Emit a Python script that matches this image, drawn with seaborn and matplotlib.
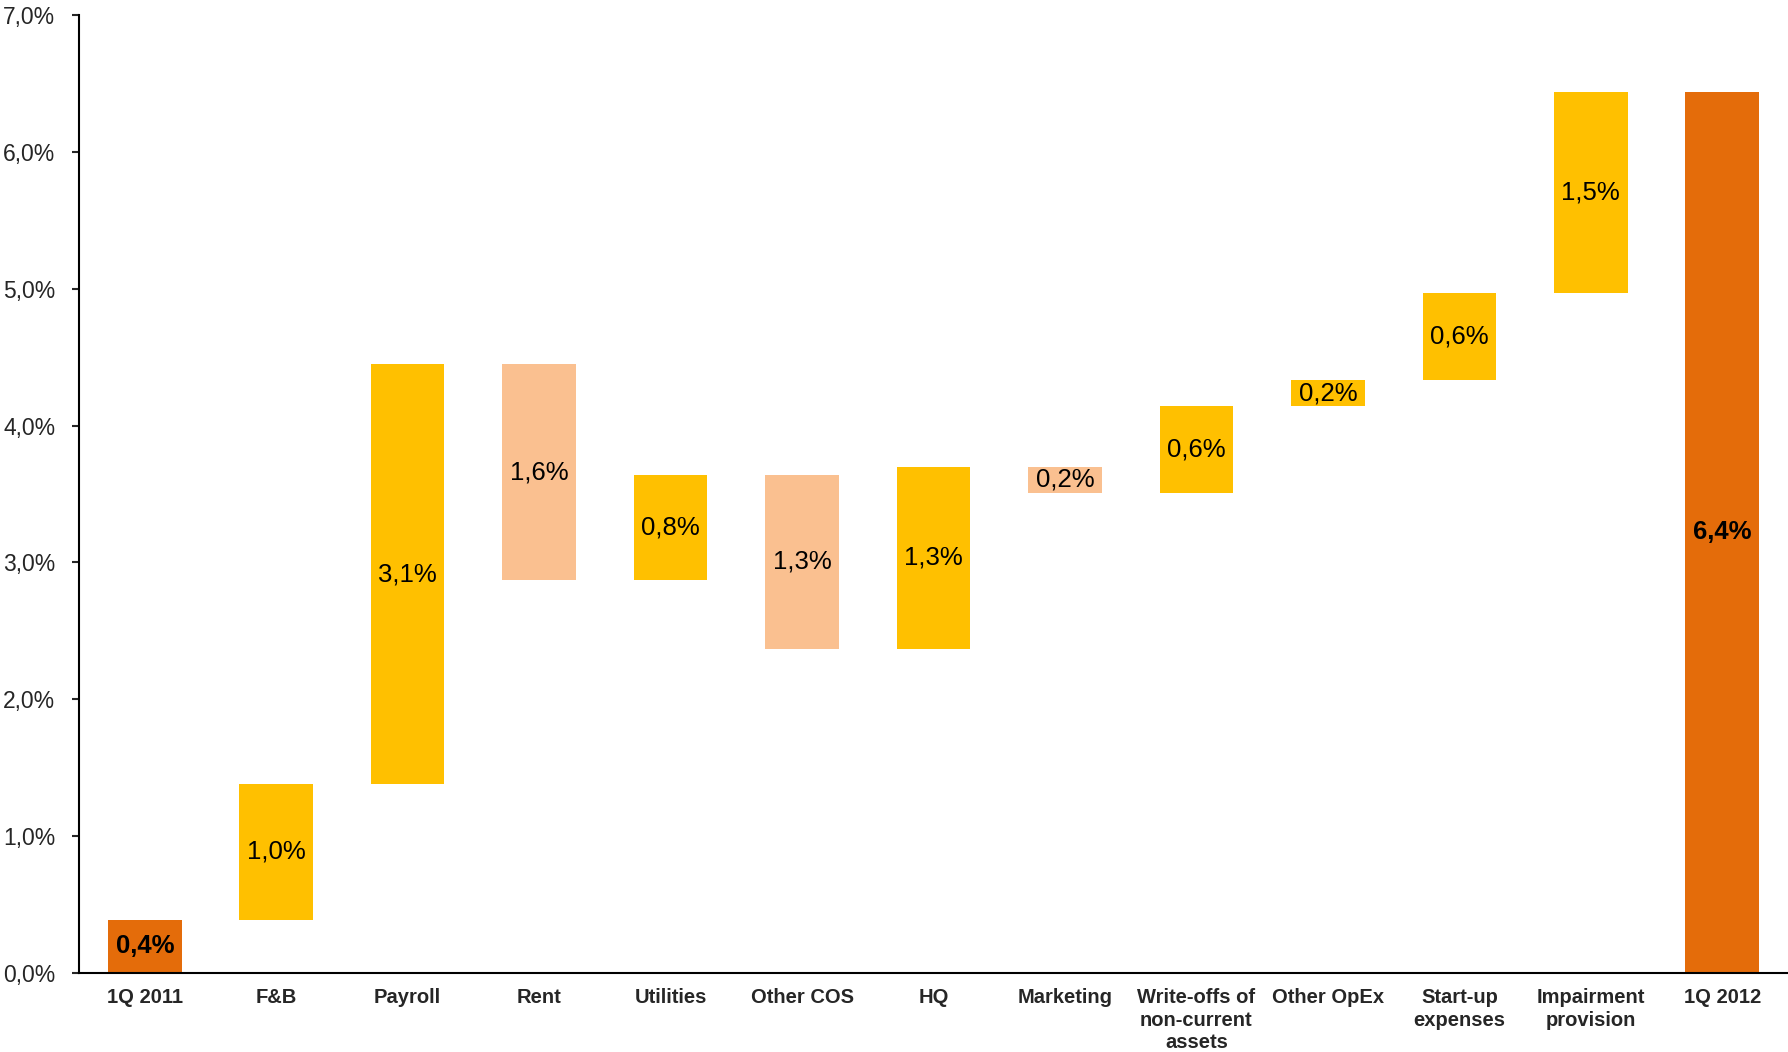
import numpy as np
import pandas as pd
import matplotlib
matplotlib.use("Agg")
import matplotlib.pyplot as plt
import seaborn as sns

categories = ["1Q 2011", "F&B", "Payroll", "Rent", "Utilities", "Other COS", "HQ",
              "Marketing", "Write-offs of\nnon-current\nassets", "Other OpEx",
              "Start-up\nexpenses", "Impairment\nprovision", "1Q 2012"]
start_value = 0.39
deltas = [0.99, 3.07, -1.58, 0.77, -1.27, 1.33, -0.19, 0.63, 0.19, 0.64, 1.47]
end_value = 6.44
labels = ["0,4%", "1,0%", "3,1%", "1,6%", "0,8%", "1,3%", "1,3%", "0,2%", "0,6%",
          "0,2%", "0,6%", "1,5%", "6,4%"]
kinds = ["total"] + ["up" if d > 0 else "down" for d in deltas] + ["total"]

colors = {"total": "#E46C0A", "up": "#FFC000", "down": "#FAC090"}

# Build waterfall bottoms/heights
bottoms, heights = [0.0], [start_value]
level = start_value
for d in deltas:
    if d >= 0:
        bottoms.append(level)
        heights.append(d)
    else:
        bottoms.append(level + d)
        heights.append(-d)
    level += d
bottoms.append(0.0)
heights.append(end_value)

df = pd.DataFrame({"cat": categories, "height": heights, "bottom": bottoms, "kind": kinds})

sns.set_style("white")
plt.rcParams["font.family"] = ["Liberation Sans", "DejaVu Sans"]

fig = plt.figure(figsize=(17.88, 10.52), dpi=100)
ax = fig.add_axes([0.0442, 0.0751, 0.9558, 0.9106])

sns.barplot(data=df, x="cat", y="height", order=categories, errorbar=None,
            width=0.56, bottom=np.array(bottoms), ax=ax, linewidth=0,
            color=colors["up"], saturation=1)
for patch, k in zip(ax.patches, kinds):
    patch.set_facecolor(colors[k])
    patch.set_edgecolor("none")

for i, (b, h, lab, k) in enumerate(zip(bottoms, heights, labels, kinds)):
    ax.text(i, b + h / 2, lab, ha="center", va="center", fontsize=18.5,
            fontweight="bold" if k == "total" else "normal", color="black")

ax.set_ylim(0, 7)
ax.set_xlim(-0.5, len(categories) - 0.5)
ax.set_yticks(np.arange(0, 7.01, 1.0))
ax.set_yticklabels([f"{v:.1f}%".replace(".", ",") for v in np.arange(0, 7.01, 1.0)],
                   fontsize=16.5)
ax.set_xticks(range(len(categories)))
ax.set_xticklabels(categories, fontsize=14.5, fontweight="bold", linespacing=1.22)
ax.tick_params(axis="x", length=0, pad=11)
ax.tick_params(axis="y", length=5, width=1.5, direction="out", left=True, pad=12)
ax.set_xlabel("")
ax.set_ylabel("")
for s in ["top", "right"]:
    ax.spines[s].set_visible(False)
for s in ["left", "bottom"]:
    ax.spines[s].set_linewidth(1.5)
    ax.spines[s].set_color("black")

fig.savefig("out.png", dpi=100)
